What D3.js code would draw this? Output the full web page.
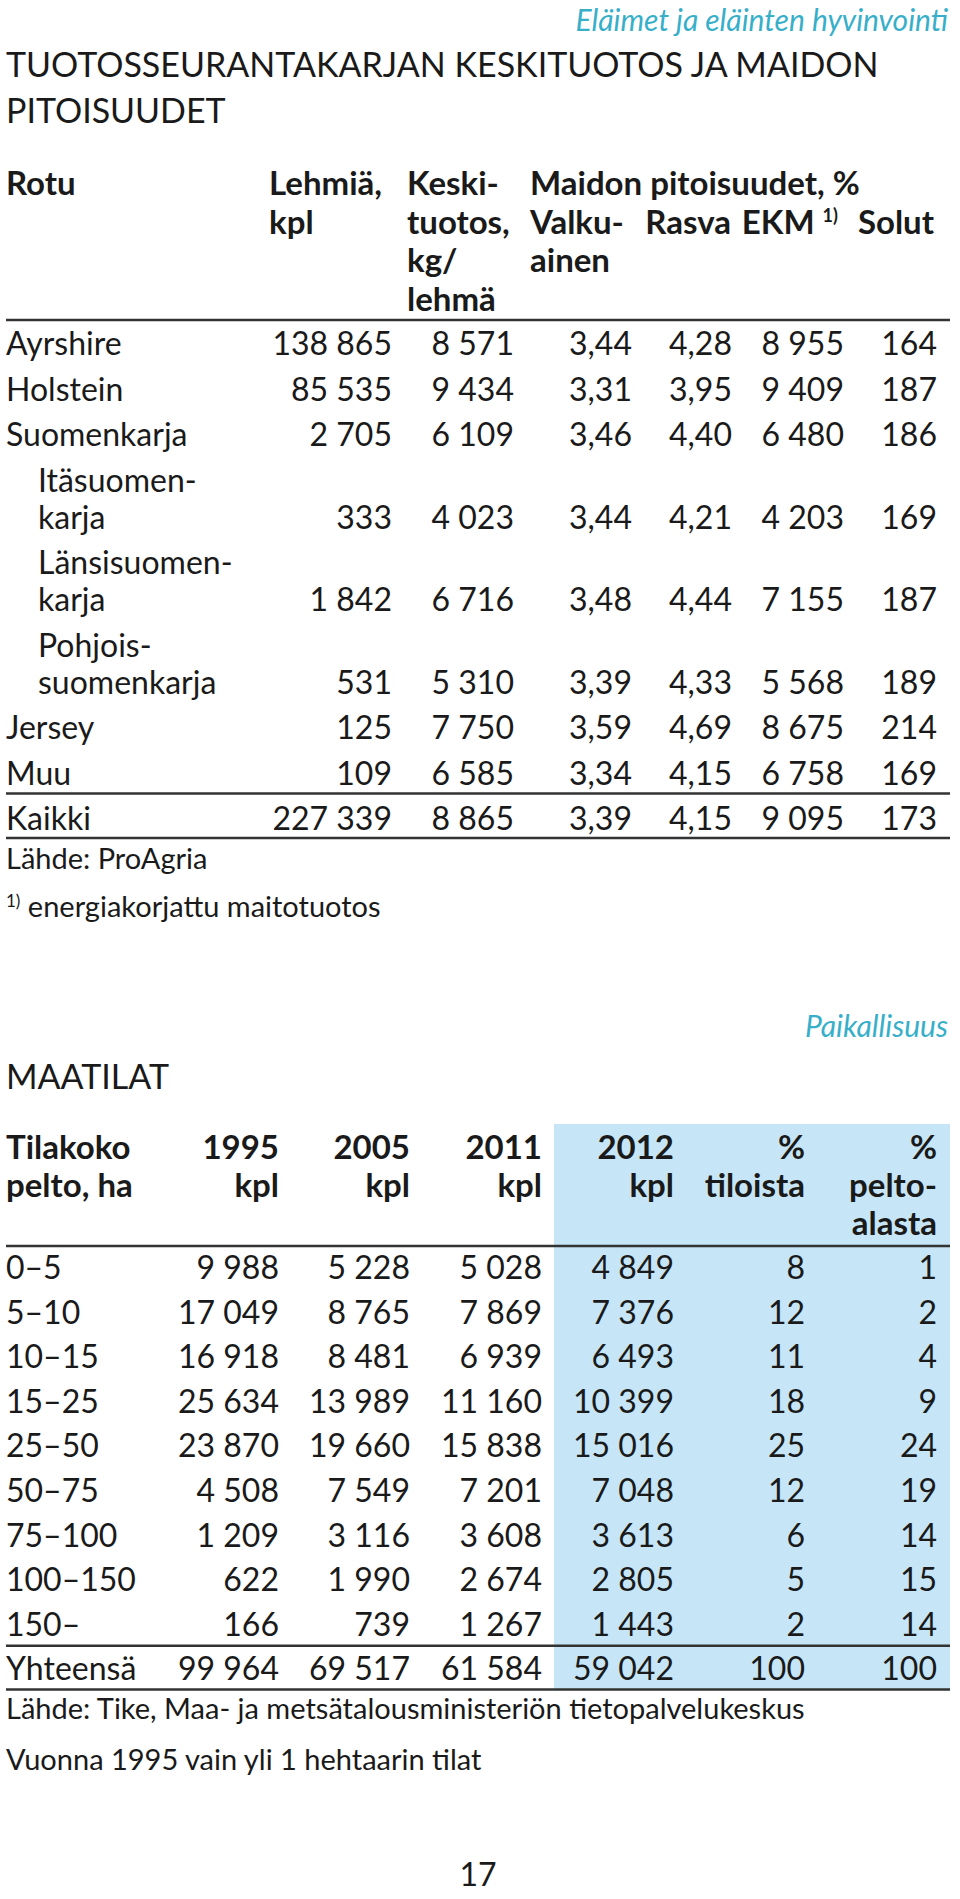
<!DOCTYPE html>
<html>
<head>
<meta charset="utf-8">
<script src="https://cdnjs.cloudflare.com/ajax/libs/d3/7.8.5/d3.min.js"></script>
<style>
  body { margin: 0; background: #fff; }
  svg text { font-family: Lato, "Open Sans", sans-serif; fill: #1a1a1a; }
  .hd { font-weight: 700; font-size: 33px; }
  .cell { font-size: 32px; }
  .note { font-size: 29px; }
  .title { font-size: 34px; }
  .section { font-style: italic; font-size: 30px; fill: #38afc9; }
</style>
</head>
<body>
<div id="page"></div>
<script>
// table 1: tuotosseurantakarjat
var breeds = [["Ayrshire"], ["Holstein"], ["Suomenkarja"], ["Itäsuomen-", "karja"],
  ["Länsisuomen-", "karja"], ["Pohjois-", "suomenkarja"], ["Jersey"], ["Muu"], ["Kaikki"]];
var subBreed = [false, false, false, true, true, true, false, false, false];
var cows = [138865, 85535, 2705, 333, 1842, 531, 125, 109, 227339];
var milkYield = [8571, 9434, 6109, 4023, 6716, 5310, 7750, 6585, 8865];
var protein = [3.44, 3.31, 3.46, 3.44, 3.48, 3.39, 3.59, 3.34, 3.39];
var fat = [4.28, 3.95, 4.40, 4.21, 4.44, 4.33, 4.69, 4.15, 4.15];
var ekm = [8955, 9409, 6480, 4203, 7155, 5568, 8675, 6758, 9095];
var somatic = [164, 187, 186, 169, 187, 189, 214, 169, 173];

// table 2: maatilat
var sizeClasses = ["0–5", "5–10", "10–15", "15–25", "25–50", "50–75", "75–100", "100–150", "150–", "Yhteensä"];
var farms1995 = [9988, 17049, 16918, 25634, 23870, 4508, 1209, 622, 166, 99964];
var farms2005 = [5228, 8765, 8481, 13989, 19660, 7549, 3116, 1990, 739, 69517];
var farms2011 = [5028, 7869, 6939, 11160, 15838, 7201, 3608, 2674, 1267, 61584];
var farms2012 = [4849, 7376, 6493, 10399, 15016, 7048, 3613, 2805, 1443, 59042];
var shareFarms = [8, 12, 11, 18, 25, 12, 6, 5, 2, 100];
var shareArea = [1, 2, 4, 9, 24, 19, 14, 15, 14, 100];

var fi = d3.formatLocale({decimal: ",", thousands: "\u00a0", grouping: [3], currency: ["", " €"]});
var fInt = fi.format(",d"), fDec = fi.format(".2f");

var W = 960, H = 1899, left = 6, right = 950;
var svg = d3.select("#page").append("svg").attr("width", W).attr("height", H);
svg.append("rect").attr("width", W).attr("height", H).attr("fill", "#fff");

function rule(y) {
  svg.append("line").attr("x1", left).attr("x2", right).attr("y1", y).attr("y2", y)
    .attr("stroke", "#333").attr("stroke-width", 2.5);
}

// ---- TABLE 1 ----
svg.append("text").attr("class", "section").attr("x", 948).attr("y", 31)
  .attr("text-anchor", "end").text("Eläimet ja eläinten hyvinvointi");
svg.append("text").attr("class", "title").attr("x", left).attr("y", 77)
  .text("TUOTOSSEURANTAKARJAN KESKITUOTOS JA MAIDON");
svg.append("text").attr("class", "title").attr("x", left).attr("y", 123).text("PITOISUUDET");

var cols1 = ["cows", "yield", "protein", "fat", "ekm", "somatic"];
var x1 = d3.scaleOrdinal().domain(cols1).range([392, 514, 632, 732, 844, 937]);
var hdLine = d3.scaleLinear().domain([0, 1]).range([195, 233.5]);

var heads1 = [
  {x: 6, anchor: "start", lines: ["Rotu"]},
  {x: 269, anchor: "start", lines: ["Lehmiä,", "kpl"]},
  {x: 407, anchor: "start", lines: ["Keski-", "tuotos,", "kg/", "lehmä"]},
  {x: 530, anchor: "start", lines: ["Maidon pitoisuudet, %"]},
  {x: 530, anchor: "start", lines: [null, "Valku-", "ainen"]},
  {x: x1("fat") - 1, anchor: "end", lines: [null, "Rasva"]},
  {x: x1("somatic") - 3, anchor: "end", lines: [null, "Solut"]}
];
heads1.forEach(function(h) {
  h.lines.forEach(function(t, i) {
    if (!t) return;
    svg.append("text").attr("class", "hd").attr("x", h.x).attr("y", hdLine(i))
      .attr("text-anchor", h.anchor).text(t);
  });
});
var ekmHd = svg.append("text").attr("class", "hd").attr("x", x1("ekm") - 6).attr("y", hdLine(1))
  .attr("text-anchor", "end");
ekmHd.append("tspan").text("EKM\u00a0");
ekmHd.append("tspan").attr("font-size", 18).attr("dy", -12).text("1)");

rule(320);

// row baselines: 45.5 px per row, wrapped label lines 37 px apart
var rowY = [], y = 355;
breeds.forEach(function(b) {
  rowY.push(y);
  y += (b.length - 1) * 37 + 45.5;
});
var lineY = d3.scaleLinear().domain([0, 1]).range([0, 37]);

var rows1 = breeds.map(function(b, i) {
  return {label: b, sub: subBreed[i], top: rowY[i], vals: [fInt(cows[i]), fInt(milkYield[i]),
    fDec(protein[i]), fDec(fat[i]), fInt(ekm[i]), fInt(somatic[i])]};
});

var g1 = svg.selectAll("g.r1").data(rows1).enter().append("g").attr("class", "r1");
g1.each(function(d) {
  var g = d3.select(this);
  d.label.forEach(function(t, i) {
    g.append("text").attr("class", "cell").attr("x", d.sub ? 38 : left)
      .attr("y", d.top + lineY(i)).text(t);
  });
  var base = d.top + lineY(d.label.length - 1);
  g.selectAll("text.v").data(d.vals).enter().append("text").attr("class", "cell v")
    .attr("x", function(v, j) { return x1(cols1[j]); })
    .attr("y", base).attr("text-anchor", "end").text(function(v) { return v; });
});

rule(rowY[7] + 9);
rule(rowY[8] + 8);

svg.append("text").attr("class", "note").attr("x", left).attr("y", rowY[8] + 39).text("Lähde: ProAgria");
var fn = svg.append("text").attr("class", "note").attr("x", left).attr("y", rowY[8] + 87);
fn.append("tspan").attr("font-size", 17).attr("dy", -10).text("1)");
fn.append("tspan").attr("dy", 10).text(" energiakorjattu maitotuotos");

// ---- TABLE 2 ----
svg.append("text").attr("class", "section").attr("x", 948).attr("y", 1037)
  .attr("text-anchor", "end").text("Paikallisuus");
svg.append("text").attr("class", "title").attr("x", left).attr("y", 1089).text("MAATILAT");

var cols2 = ["y1995", "y2005", "y2011", "y2012", "farms", "area"];
var x2 = d3.scaleOrdinal().domain(cols2).range([279, 410, 542, 674, 805, 937]);
var y2 = d3.scaleLinear().domain([0, 9]).range([1279, 1279 + 9 * 44.6]);
var hd2Line = d3.scaleLinear().domain([0, 1]).range([1159, 1197]);

// highlighted 2012 block
svg.append("rect").attr("x", 554).attr("y", 1124).attr("width", right - 554)
  .attr("height", y2(9) + 9 - 1124).attr("fill", "#c6e6f7");

var heads2 = [
  {x: left, anchor: "start", lines: ["Tilakoko", "pelto, ha"]},
  {x: x2("y1995"), anchor: "end", lines: ["1995", "kpl"]},
  {x: x2("y2005"), anchor: "end", lines: ["2005", "kpl"]},
  {x: x2("y2011"), anchor: "end", lines: ["2011", "kpl"]},
  {x: x2("y2012"), anchor: "end", lines: ["2012", "kpl"]},
  {x: x2("farms"), anchor: "end", lines: ["%", "tiloista"]},
  {x: x2("area"), anchor: "end", lines: ["%", "pelto-", "alasta"]}
];
heads2.forEach(function(h) {
  h.lines.forEach(function(t, i) {
    svg.append("text").attr("class", "hd").attr("x", h.x).attr("y", hd2Line(i))
      .attr("text-anchor", h.anchor).text(t);
  });
});

rule(1246);

var rows2 = sizeClasses.map(function(c, i) {
  return {label: c, vals: [fInt(farms1995[i]), fInt(farms2005[i]), fInt(farms2011[i]),
    fInt(farms2012[i]), fInt(shareFarms[i]), fInt(shareArea[i])], i: i};
});
var g2 = svg.selectAll("g.r2").data(rows2).enter().append("g").attr("class", "r2")
  .attr("transform", function(d) { return "translate(0," + y2(d.i) + ")"; });
g2.append("text").attr("class", "cell").attr("x", left).text(function(d) { return d.label; });
g2.selectAll("text.v").data(function(d) { return d.vals; }).enter().append("text")
  .attr("class", "cell v").attr("text-anchor", "end")
  .attr("x", function(v, j) { return x2(cols2[j]); })
  .text(function(v) { return v; });

rule(y2(8) + 10);
rule(y2(9) + 9);

svg.append("text").attr("class", "note").attr("x", left).attr("y", y2(9) + 39)
  .text("Lähde: Tike, Maa- ja metsätalousministeriön tietopalvelukeskus");
svg.append("text").attr("class", "note").attr("x", left).attr("y", y2(9) + 90)
  .text("Vuonna 1995 vain yli 1 hehtaarin tilat");

svg.append("text").attr("class", "cell").attr("x", 478).attr("y", 1886)
  .attr("text-anchor", "middle").text("17");
</script>
</body>
</html>
